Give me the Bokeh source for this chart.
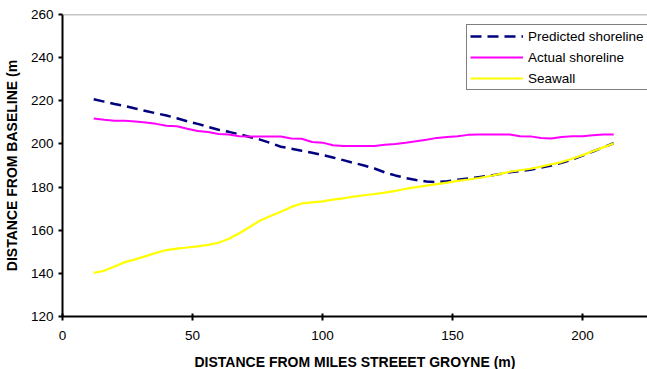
from bokeh.plotting import figure
from bokeh.models import Range1d, FixedTicker, Span, Legend, LegendItem
from bokeh.embed import file_html
from bokeh.resources import INLINE

x_vals = [12, 16, 20, 24, 28, 32, 36, 40, 44, 48, 52, 56, 60, 64, 68, 72, 76, 80, 84, 88,
          92, 96, 100, 104, 108, 112, 116, 120, 124, 128, 132, 136, 140, 144, 148, 152,
          156, 160, 164, 168, 172, 176, 180, 184, 188, 192, 196, 200, 204, 208, 212]

predicted = [220.7, 219.6, 218.5, 217.6, 216.4, 215.3, 214.2, 213.2, 211.9, 210.5, 209.3,
             207.9, 206.6, 205.6, 204.5, 203.2, 202.0, 200.4, 198.7, 197.8, 196.8, 195.9,
             194.9, 193.7, 192.5, 191.2, 190.0, 188.6, 186.8, 185.4, 184.2, 183.3, 182.6,
             182.3, 182.7, 183.4, 184.0, 184.6, 185.2, 186.0, 186.9, 187.4, 188.0, 189.0,
             190.0, 191.2, 192.8, 194.6, 196.5, 198.4, 200.3]

actual = [211.8, 211.2, 210.8, 210.8, 210.4, 209.9, 209.3, 208.4, 208.2, 207.0, 206.0,
          205.5, 204.6, 204.4, 203.6, 203.4, 203.4, 203.4, 203.4, 202.5, 202.4, 200.9,
          200.6, 199.4, 199.0, 199.0, 199.0, 199.0, 199.6, 200.0, 200.5, 201.2, 201.9,
          202.8, 203.2, 203.6, 204.2, 204.4, 204.4, 204.4, 204.4, 203.6, 203.5, 202.8,
          202.5, 203.2, 203.6, 203.6, 204.0, 204.4, 204.4]

seawall = [140.2, 141.2, 143.2, 145.2, 146.5, 148.0, 149.5, 150.8, 151.5, 152.0, 152.5,
           153.2, 154.2, 156.0, 158.6, 161.5, 164.5, 166.6, 168.6, 170.8, 172.4, 172.9,
           173.4, 174.2, 174.8, 175.6, 176.2, 176.8, 177.4, 178.2, 179.2, 180.0, 180.7,
           181.4, 182.1, 182.9, 183.5, 184.2, 185.0, 186.0, 187.1, 187.8, 188.5, 189.5,
           190.6, 191.6, 193.1, 194.8, 196.6, 198.4, 200.2]

x_ticks = [0, 50, 100, 150, 200]
y_ticks = [120, 140, 160, 180, 200, 220, 240, 260]

FONT = "Liberation Sans"

p = figure(frame_width=585, frame_height=302, output_backend="svg", toolbar_location=None,
           x_range=Range1d(0, 225), y_range=Range1d(120, 260),
           min_border_left=54, min_border_right=0, min_border_top=14, min_border_bottom=40)
p.outline_line_color = None
p.xgrid.visible = False
p.ygrid.visible = False
p.background_fill_color = "white"
p.border_fill_color = "white"

top = Span(location=260, dimension="width", line_color="#8c8c8c", line_width=1.5)
p.add_layout(top)

r1 = p.line(x_vals, predicted, line_color="#000080", line_width=2.5, line_dash="11 6")
r2 = p.line(x_vals, actual, line_color="#FF00FF", line_width=2)
r3 = p.line(x_vals, seawall, line_color="#FFFF00", line_width=2.2)

for ax in (p.xaxis[0], p.yaxis[0]):
    ax.axis_line_color = "black"
    ax.axis_line_width = 2
    ax.major_tick_line_color = "black"
    ax.major_tick_line_width = 2
    ax.minor_tick_line_color = None
    ax.major_label_text_font = FONT
    ax.major_label_text_font_size = "13.5px"
    ax.major_label_text_color = "black"
    ax.axis_label_text_font = FONT
    ax.axis_label_text_font_size = "14px"
    ax.axis_label_text_font_style = "bold"
    ax.axis_label_text_color = "black"

p.xaxis[0].ticker = FixedTicker(ticks=x_ticks)
p.yaxis[0].ticker = FixedTicker(ticks=y_ticks)
p.xaxis[0].major_tick_in = 3
p.xaxis[0].major_tick_out = 4
p.yaxis[0].major_tick_in = 0
p.yaxis[0].major_tick_out = 4
p.xaxis[0].major_label_standoff = 10
p.yaxis[0].major_label_standoff = 5
p.xaxis[0].axis_label = "DISTANCE FROM MILES STREEET GROYNE (m)"
p.yaxis[0].axis_label = "DISTANCE FROM BASELINE (m"
p.xaxis[0].axis_label_standoff = 11
p.yaxis[0].axis_label_standoff = 8

legend = Legend(items=[LegendItem(label="Predicted shoreline", renderers=[r1]),
                       LegendItem(label="Actual shoreline", renderers=[r2]),
                       LegendItem(label="Seawall", renderers=[r3])],
                location=(404, 226))
legend.border_line_color = "black"
legend.border_line_width = 1.5
legend.background_fill_color = "white"
legend.background_fill_alpha = 1
legend.label_text_font = FONT
legend.label_text_font_size = "13.5px"
legend.label_text_color = "black"
legend.glyph_width = 53
legend.glyph_height = 16
legend.label_height = 16
legend.spacing = 5
legend.padding = 3
legend.margin = 0
legend.label_standoff = 5
p.add_layout(legend)

open("out.html", "w").write(file_html(p, INLINE))
